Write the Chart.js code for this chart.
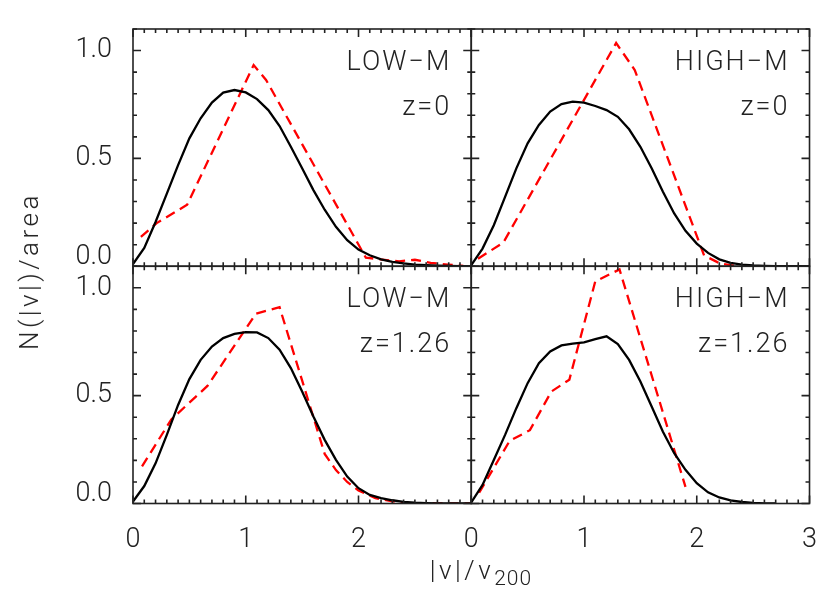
<!DOCTYPE html>
<html>
<head>
<meta charset="utf-8">
<script src="https://cdn.jsdelivr.net/npm/chart.js@4.4.1/dist/chart.umd.min.js"></script>
<style>
  body { margin: 0; background: #fff; }
  #wrap { position: relative; width: 830px; height: 593px; }
  .title { position: absolute; font-family: Roboto, 'Liberation Sans', sans-serif; font-weight: 300; font-size: 26px; color: #222; white-space: nowrap; letter-spacing: 3.5px; }
  #ytitle { left: 29px; top: 271px; transform: translate(-50%, -50%) rotate(-90deg); }
  #xtitle { left: 481px; top: 572px; transform: translate(-50%, -50%); }
  #xtitle sub { font-size: 21px; vertical-align: -6px; letter-spacing: 1px; }
</style>
</head>
<body>
<div id="wrap">
  <canvas id="myChart"></canvas>
  <div class="title" id="ytitle">N(|v|)/area</div>
  <div class="title" id="xtitle">|v|/v<sub>200</sub></div>
</div>
<script>
// |v|/v200 grid of the smooth (black) curves
const vGrid = [0, 0.1, 0.2, 0.3, 0.4, 0.5, 0.6, 0.7, 0.8, 0.9, 1.0, 1.1, 1.2, 1.3, 1.4, 1.5,
  1.6, 1.7, 1.8, 1.9, 2.0, 2.1, 2.2, 2.3, 2.4, 2.5, 2.6, 2.7, 2.8, 2.9, 3.0];

// LOW-M, z=0
const lowZ0Black = [0.01, 0.085, 0.205, 0.337, 0.469, 0.593, 0.686, 0.759, 0.805, 0.817, 0.806,
  0.775, 0.724, 0.65, 0.554, 0.454, 0.353, 0.262, 0.183, 0.121, 0.077, 0.051, 0.032, 0.02,
  0.013, 0.008, 0.005, 0.003, 0.002, 0.001, 0];
const lowZ0RedX = [0.07, 0.21, 0.48, 1.07, 1.18, 2.065, 2.21, 2.36, 2.5, 2.64, 2.79, 2.93, 3.0];
const lowZ0RedY = [0.136, 0.2, 0.285, 0.933, 0.864, 0.04, 0.031, 0.023, 0.03, 0.016, 0.008, 0.002, 0];

// HIGH-M, z=0
const highZ0Black = [0.005, 0.082, 0.19, 0.322, 0.454, 0.57, 0.655, 0.717, 0.752, 0.763, 0.759,
  0.743, 0.724, 0.693, 0.635, 0.554, 0.454, 0.345, 0.245, 0.164, 0.105, 0.062, 0.032, 0.016,
  0.008, 0.004, 0.002, 0.001, 0, 0, 0];
const highZ0RedX = [0.06, 0.285, 1.285, 1.45, 2.065, 2.21, 2.36];
const highZ0RedY = [0.035, 0.11, 1.035, 0.91, 0.05, 0.012, 0];

// LOW-M, z=1.26
const lowZ126Black = [0.009, 0.081, 0.186, 0.318, 0.457, 0.577, 0.666, 0.728, 0.767, 0.786, 0.795,
  0.793, 0.767, 0.713, 0.628, 0.519, 0.403, 0.295, 0.202, 0.125, 0.071, 0.04, 0.025, 0.015,
  0.008, 0.004, 0.002, 0.001, 0, 0, 0];
const lowZ126RedX = [0.08, 0.34, 0.66, 1.09, 1.3, 1.7, 1.8, 1.9, 2.0, 2.15, 2.3, 2.5, 3.0];
const lowZ126RedY = [0.172, 0.39, 0.545, 0.88, 0.91, 0.23, 0.155, 0.1, 0.06, 0.025, 0.01, 0, 0];

// HIGH-M, z=1.26 (black stops at 2.7)
const highZ126Black = [0.005, 0.086, 0.202, 0.318, 0.442, 0.558, 0.651, 0.705, 0.733, 0.741, 0.747,
  0.762, 0.775, 0.739, 0.666, 0.566, 0.45, 0.333, 0.233, 0.156, 0.094, 0.052, 0.028, 0.014,
  0.007, 0.003, 0.001, 0];
const highZ126RedX = [0.07, 0.34, 0.52, 0.71, 0.87, 1.1, 1.315, 1.9];
const highZ126RedY = [0.05, 0.29, 0.34, 0.519, 0.574, 1.03, 1.085, 0.077];

const yTickValues = [0, 0.5, 1.0];
const FONT = "Roboto, 'Liberation Sans', sans-serif";

function pts(xs, ys) {
  return ys.map((y, i) => ({x: xs[i], y: y}));
}
function blackLine(ys, xa, ya) {
  return {data: pts(vGrid, ys), xAxisID: xa, yAxisID: ya, borderColor: '#000', borderWidth: 2.3,
    pointRadius: 0, tension: 0};
}
function redLine(xs, ys, xa, ya) {
  return {data: pts(xs, ys), xAxisID: xa, yAxisID: ya, borderColor: '#ff0000', borderWidth: 2.3,
    borderDash: [10, 6], pointRadius: 0, tension: 0};
}

const panels = [
  {x: 'xL', y: 'yT', name: 'LOW\u2212M', z: 'z=0'},
  {x: 'xR', y: 'yT', name: 'HIGH\u2212M', z: 'z=0'},
  {x: 'xL', y: 'yB', name: 'LOW\u2212M', z: 'z=1.26'},
  {x: 'xR', y: 'yB', name: 'HIGH\u2212M', z: 'z=1.26'}
];

// boxes with inward ticks on every side, plus the panel labels
const framePlugin = {
  id: 'frame',
  afterDatasetsDraw(chart) {
    const ctx = chart.ctx;
    panels.forEach(p => {
      const xs = chart.scales[p.x], ys = chart.scales[p.y];
      const l = xs.left, r = xs.right, t = ys.top, b = ys.bottom;
      ctx.save();
      ctx.strokeStyle = '#222';
      ctx.lineWidth = 1.6;
      ctx.strokeRect(l, t, r - l, b - t);
      ctx.beginPath();
      for (let i = 0; i <= 30; i++) {
        const px = xs.getPixelForValue(i / 10);
        const len = i % 10 === 0 ? 8 : 4;
        ctx.moveTo(px, b); ctx.lineTo(px, b - len);
        ctx.moveTo(px, t); ctx.lineTo(px, t + len);
      }
      for (let i = 0; i <= 11; i++) {
        const py = ys.getPixelForValue(i / 10);
        const len = i % 5 === 0 ? 8 : 4;
        ctx.moveTo(l, py); ctx.lineTo(l + len, py);
        ctx.moveTo(r, py); ctx.lineTo(r - len, py);
      }
      ctx.stroke();
      ctx.fillStyle = '#222';
      ctx.font = '300 27px ' + FONT;
      ctx.letterSpacing = '2px';
      ctx.textAlign = 'right';
      ctx.textBaseline = 'middle';
      ctx.fillText(p.name, r - 20, t + 34);
      ctx.fillText(p.z, r - 20, t + 79);
      ctx.restore();
    });
  }
};

function xAxis(hideLast) {
  return {
    type: 'linear', position: 'bottom', stack: 'x', min: 0, max: 3,
    grid: {display: false}, border: {display: false},
    ticks: {
      stepSize: 1, autoSkip: false, maxRotation: 0, padding: 13, color: '#222',
      font: {family: FONT, size: 27, weight: 300},
      callback: v => (hideLast && v === 3) ? '' : String(v)
    },
    afterFit: s => { s.height = 89.5; }
  };
}
function yAxis() {
  return {
    type: 'linear', position: 'left', stack: 'y', min: 0, max: 1.1,
    grid: {display: false}, border: {display: false},
    afterBuildTicks: s => { s.ticks = yTickValues.map(v => ({value: v})); },
    ticks: {
      padding: 13, color: '#222',
      font: {family: FONT, size: 27, weight: 300, lineHeight: 0.7},
      callback: v => v === 0 ? ['0.0', ''] : v.toFixed(1)
    },
    afterFit: s => { s.width = 133; }
  };
}

const ctx = document.getElementById('myChart');

new Chart(ctx, {
  type: 'line',
  data: {
    datasets: [
      blackLine(lowZ0Black, 'xL', 'yT'),
      redLine(lowZ0RedX, lowZ0RedY, 'xL', 'yT'),
      blackLine(highZ0Black, 'xR', 'yT'),
      redLine(highZ0RedX, highZ0RedY, 'xR', 'yT'),
      blackLine(lowZ126Black, 'xL', 'yB'),
      redLine(lowZ126RedX, lowZ126RedY, 'xL', 'yB'),
      blackLine(highZ126Black, 'xR', 'yB'),
      redLine(highZ126RedX, highZ126RedY, 'xR', 'yB')
    ]
  },
  options: {
    responsive: true,
    maintainAspectRatio: false,
    animation: false,
    layout: {padding: {left: 0, top: 29, right: 17, bottom: 0}},
    plugins: {legend: {display: false}, tooltip: {enabled: false}},
    scales: {
      xL: xAxis(true),
      xR: xAxis(false),
      yB: yAxis(),
      yT: yAxis()
    }
  },
  plugins: [framePlugin]
});
</script>
</body>
</html>
